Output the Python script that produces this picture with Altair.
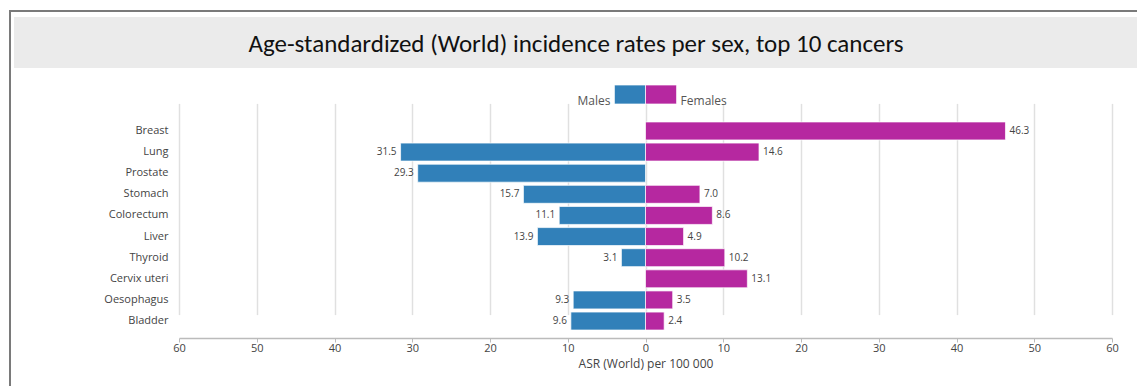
import altair as alt
import pandas as pd

# ---- data ----
cancers = ["Breast", "Lung", "Prostate", "Stomach", "Colorectum", "Liver",
           "Thyroid", "Cervix uteri", "Oesophagus", "Bladder"]
males = [None, 31.5, 29.3, 15.7, 11.1, 13.9, 3.1, None, 9.3, 9.6]
females = [46.3, 14.6, None, 7.0, 8.6, 4.9, 10.2, 13.1, 3.5, 2.4]
sexes = ["Males", "Females"]
legend_values = [4, 4]
tick_values = [-60, -50, -40, -30, -20, -10, 0, 10, 20, 30, 40, 50, 60]
title_text = "Age-standardized (World) incidence rates per sex, top 10 cancers"
x_title = "ASR (World) per 100 000"

BLUE = "#3180b9"
MAGENTA = "#b628a0"
FONT = "Open Sans"

rows = []
for c, m, f in zip(cancers, males, females):
    if m is not None:
        rows.append({"cancer": c, "sex": "Males", "value": m, "signed": -m})
    if f is not None:
        rows.append({"cancer": c, "sex": "Females", "value": f, "signed": f})
df = pd.DataFrame(rows)

leg = pd.DataFrame({
    "sex": sexes,
    "signed": [-legend_values[0], legend_values[1]],
})

W, H = 933, 241
PAD_L, PAD_T = 179, 97

color = alt.Color("sex:N", scale=alt.Scale(domain=sexes, range=[BLUE, MAGENTA]), legend=None)
xscale = alt.Scale(domain=[-60, 60], nice=False, zero=False)
yscale = alt.Scale(domain=cancers, range=[23.4, 234.6], paddingInner=0.15, paddingOuter=0.075)

base = alt.Chart(df)

bars = base.mark_bar(stroke="#ffffff", strokeWidth=1, strokeOpacity=0.7).encode(
    x=alt.X("signed:Q", scale=xscale, stack=None,
            axis=alt.Axis(values=tick_values, labelExpr="abs(datum.value)", title=x_title,
                          grid=True, gridColor="#e0e0e0", gridWidth=1.5,
                          domainColor="#bbbbbb", domainWidth=1.5, labelFlush=False,
                          tickColor="#bbbbbb", tickSize=4, labelFontSize=11,
                          labelColor="#444444", labelFont=FONT, labelPadding=0,
                          titleFont=FONT, titleFontSize=12, titleFontWeight="normal",
                          titleColor="#444444", titlePadding=5)),
    y=alt.Y("cancer:N", scale=yscale, sort=cancers,
            axis=alt.Axis(title=None, domain=False, ticks=False, labelFont=FONT,
                          labelFontSize=11, labelColor="#444444", labelPadding=11)),
    color=color,
)

lab_m = base.transform_filter(alt.datum.sex == "Males").mark_text(
    align="right", baseline="middle", dx=-4, fontSize=10, font=FONT, color="#444444"
).encode(
    x=alt.X("signed:Q", scale=xscale),
    y=alt.Y("cancer:N", scale=yscale, sort=cancers),
    text=alt.Text("value:Q", format=".1f"),
)
lab_f = base.transform_filter(alt.datum.sex == "Females").mark_text(
    align="left", baseline="middle", dx=4, fontSize=10, font=FONT, color="#444444"
).encode(
    x=alt.X("signed:Q", scale=xscale),
    y=alt.Y("cancer:N", scale=yscale, sort=cancers),
    text=alt.Text("value:Q", format=".1f"),
)

lbase = alt.Chart(leg)
leg_rect = lbase.mark_rect(stroke="#ffffff", strokeWidth=1, strokeOpacity=0.7).encode(
    x=alt.X("signed:Q", scale=xscale),
    x2=alt.datum(0),
    y=alt.value(-12),
    y2=alt.value(7),
    color=color,
)
leg_m = lbase.transform_filter(alt.datum.sex == "Males").mark_text(
    align="right", baseline="alphabetic", dx=-4, fontSize=12, font=FONT, color="#555555"
).encode(x=alt.X("signed:Q", scale=xscale), y=alt.value(8), text="sex:N")
leg_f = lbase.transform_filter(alt.datum.sex == "Females").mark_text(
    align="left", baseline="alphabetic", dx=4, fontSize=12, font=FONT, color="#555555"
).encode(x=alt.X("signed:Q", scale=xscale), y=alt.value(8), text="sex:N")

tdf = pd.DataFrame({"t": [title_text]})
frame = alt.Chart(tdf).mark_rect(fill=None, stroke="#7a7a7a", strokeWidth=2).encode(
    x=alt.value(10 - PAD_L), x2=alt.value(1137 - PAD_L + 20),
    y=alt.value(11 - PAD_T), y2=alt.value(386 - PAD_T + 20),
)
banner = alt.Chart(tdf).mark_rect(fill="#ebebeb").encode(
    x=alt.value(14 - PAD_L), x2=alt.value(1137 - PAD_L),
    y=alt.value(17 - PAD_T), y2=alt.value(68 - PAD_T),
)
title = alt.Chart(tdf).mark_text(
    font="Carlito, Liberation Sans Narrow, Open Sans", fontSize=25, color="#111111",
    align="center", baseline="middle"
).encode(x=alt.value(576 - PAD_L), y=alt.value(44 - PAD_T), text="t:N")

chart = alt.layer(
    frame, banner, title, bars, lab_m, lab_f, leg_rect, leg_m, leg_f
).properties(
    width=W, height=H,
    autosize=alt.AutoSizeParams(type="none"),
    padding={"left": PAD_L, "top": PAD_T, "right": 1137 - PAD_L - W, "bottom": 386 - PAD_T - H},
    background="white",
).configure_view(stroke=None)

chart.save("out.html", embed_options={"renderer": "svg", "actions": False})
